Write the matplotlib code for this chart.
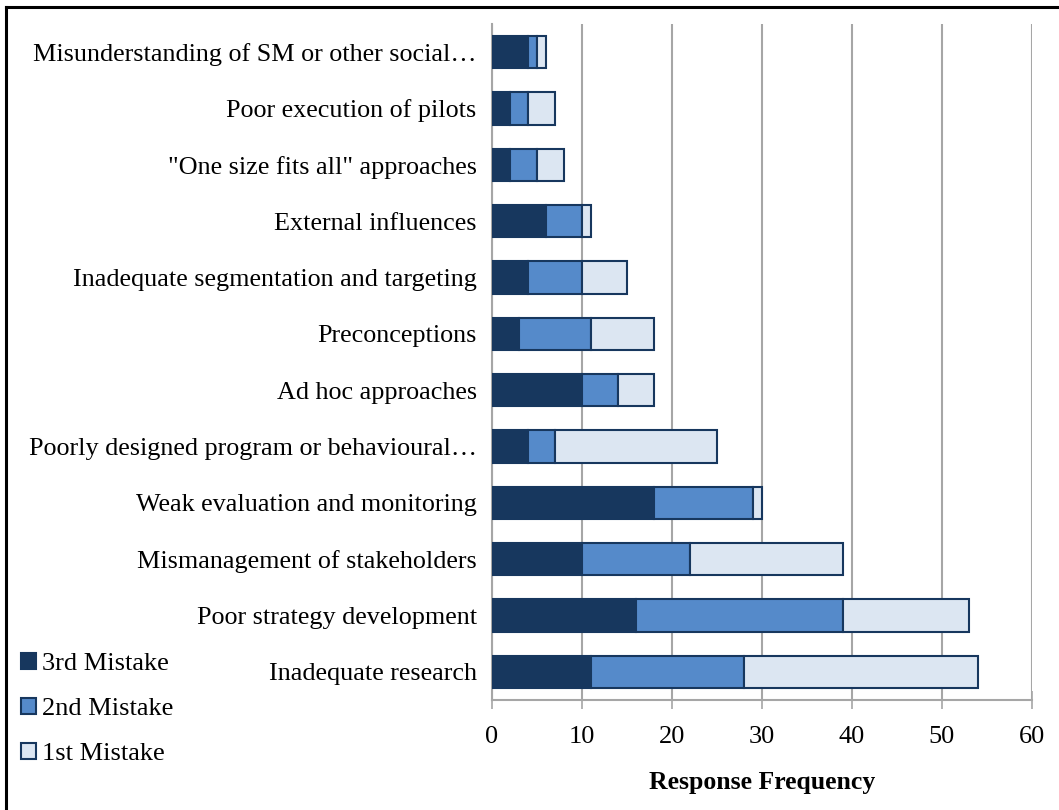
import matplotlib.pyplot as plt
import numpy as np
from matplotlib.patches import Patch
from matplotlib.lines import Line2D

plt.rcParams['font.family'] = ['Liberation Serif', 'DejaVu Serif']

categories = [
    'Misunderstanding of SM or other social\u2026',
    'Poor execution of pilots',
    '"One size fits all" approaches',
    'External influences',
    'Inadequate segmentation and targeting',
    'Preconceptions',
    'Ad hoc approaches',
    'Poorly designed program or behavioural\u2026',
    'Weak evaluation and monitoring',
    'Mismanagement of stakeholders',
    'Poor strategy development',
    'Inadequate research',
]
third = [4, 2, 2, 6, 4, 3, 10, 4, 18, 10, 16, 11]
second = [1, 2, 3, 4, 6, 8, 4, 3, 11, 12, 23, 17]
first = [1, 3, 3, 1, 5, 7, 4, 18, 1, 17, 14, 26]

series_names = ['3rd Mistake', '2nd Mistake', '1st Mistake']
colors = ['#17375E', '#558ACA', '#DCE6F2']
edge = '#17375E'
grid_c = '#A6A6A6'

fig = plt.figure(figsize=(10.59, 8.10), dpi=100)
ax = fig.add_axes([492 / 1059, 1 - 700 / 810, 540 / 1059, 676 / 810])

y = np.arange(len(categories))
left = np.zeros(len(categories))
for vals, c in zip([third, second, first], colors):
    ax.barh(y, vals, left=left, height=0.57, color=c, edgecolor=edge,
            linewidth=1.5, zorder=3)
    left += np.array(vals)

ax.set_ylim(len(categories) - 0.5, -0.5)
ax.set_xlim(0, 60)
ax.set_xticks(range(0, 61, 10))
ax.set_yticks(y)
ax.set_yticklabels(categories, fontsize=18.8)
ax.tick_params(axis='y', length=0, pad=11)
ax.tick_params(axis='x', direction='inout', length=13, width=1.2,
               color=grid_c, labelsize=19, pad=12)
ax.xaxis.grid(True, color=grid_c, linewidth=1.5, zorder=0)
ax.set_axisbelow(True)
for s in ['top', 'right']:
    ax.spines[s].set_visible(False)
ax.spines['left'].set_color(grid_c)
ax.spines['left'].set_linewidth(1.5)
ax.spines['bottom'].set_color(grid_c)
ax.spines['bottom'].set_linewidth(1.5)
ax.set_xlabel('Response Frequency', fontsize=18.5, fontweight='bold', labelpad=17)

handles = [Patch(facecolor=c, edgecolor=edge, linewidth=1.5) for c in colors]
fig.legend(handles, series_names, loc='upper left',
           bbox_to_anchor=(8 / 1059, 1 - 640 / 810), frameon=False,
           fontsize=19, handlelength=0.55, handleheight=0.55,
           handletextpad=0.25, labelspacing=0.85, borderpad=0)

# outer frame (top and left edges visible)
fig.add_artist(Line2D([6 / 1059, 1], [1 - 7 / 810, 1 - 7 / 810],
                      color='black', linewidth=2.2, transform=fig.transFigure))
fig.add_artist(Line2D([6 / 1059, 6 / 1059], [0, 1 - 7 / 810],
                      color='black', linewidth=2.2, transform=fig.transFigure))

plt.savefig('out.png', dpi=100)
